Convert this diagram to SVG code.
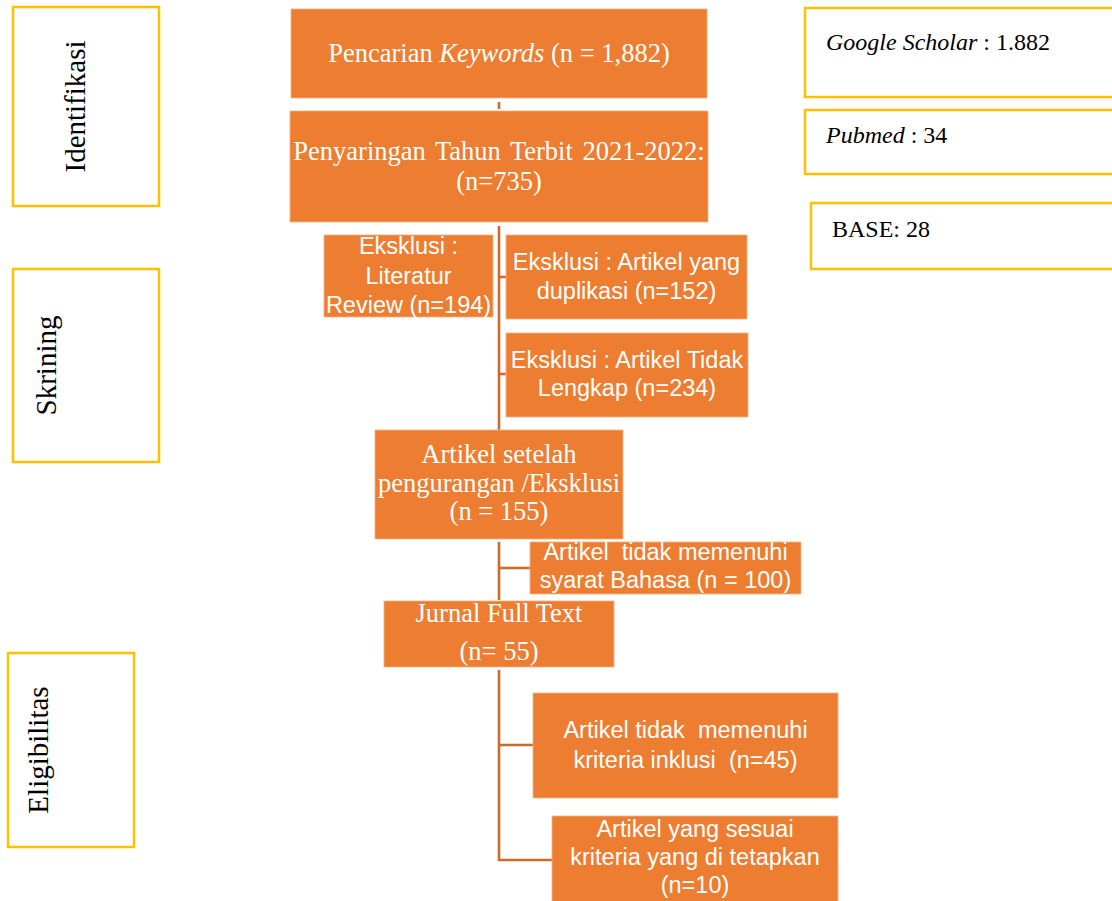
<svg xmlns="http://www.w3.org/2000/svg" width="1112" height="901" viewBox="0 0 1112 901">
<style>
.bg{fill:#ffffff}
.box{fill:#ED7D31;stroke:#F4B183;stroke-width:0.8}
.phase{fill:#ffffff;stroke:#FFC000;stroke-width:2.5}
.src{fill:#ffffff;stroke:#FFC000;stroke-width:2.5}
.serif{font-family:"Liberation Serif","Times New Roman",serif;fill:#ffffff;font-size:26.5px;text-anchor:middle}
.sans{font-family:"Liberation Sans",Arial,sans-serif;fill:#ffffff;font-size:23.5px;text-anchor:middle}
.dark{font-family:"Liberation Serif","Times New Roman",serif;fill:#000000;font-size:24px}
.side{font-family:"Liberation Serif","Times New Roman",serif;fill:#000000;font-size:29px;text-anchor:middle}
.it{font-style:italic}
.conn{stroke:#CF6A2A;stroke-width:2.6;fill:none}
</style>
<rect class="bg" x="0" y="0" width="1112" height="901"/>

<g id="phase-identifikasi">
<rect class="phase" x="13" y="7" width="146" height="199"/>
<text class="side" transform="translate(85,106.5) rotate(-90)">Identifikasi</text>
</g>
<g id="phase-skrining">
<rect class="phase" x="13" y="269" width="146" height="193"/>
<text class="side" transform="translate(56,365.5) rotate(-90)">Skrining</text>
</g>
<g id="phase-eligibilitas">
<rect class="phase" x="8" y="653" width="126" height="194"/>
<text class="side" transform="translate(48,750) rotate(-90)">Eligibilitas</text>
</g>

<g id="src-google">
<rect class="src" x="805" y="8" width="320" height="89"/>
<text class="dark" x="826" y="50"><tspan class="it">Google Scholar</tspan> : 1.882</text>
</g>
<g id="src-pubmed">
<rect class="src" x="805" y="110" width="320" height="64"/>
<text class="dark" x="826" y="143"><tspan class="it">Pubmed</tspan> : 34</text>
</g>
<g id="src-base">
<rect class="src" x="811" y="203" width="320" height="66"/>
<text class="dark" x="832" y="237">BASE: 28</text>
</g>

<g id="connectors">
<line class="conn" x1="499" y1="102" x2="499" y2="109"/>
<line class="conn" x1="499" y1="226" x2="499" y2="430"/>
<line class="conn" x1="499" y1="277" x2="506" y2="277"/>
<line class="conn" x1="499" y1="374" x2="506" y2="374"/>
<line class="conn" x1="499" y1="542" x2="499" y2="600"/>
<line class="conn" x1="499" y1="568" x2="530" y2="568"/>
<line class="conn" x1="499" y1="670" x2="499" y2="861"/>
<line class="conn" x1="499" y1="745" x2="533" y2="745"/>
<line class="conn" x1="498" y1="860" x2="552" y2="860"/>
</g>

<g id="n-search">
<rect class="box" x="291" y="9" width="416" height="89"/>
<text class="serif" x="499" y="62">Pencarian <tspan class="it">Keywords</tspan> (n = 1,882)</text>
</g>
<g id="n-filter">
<rect class="box" x="290" y="111" width="418" height="111"/>
<text class="serif" x="499" y="160" word-spacing="3">Penyaringan Tahun Terbit 2021-2022:</text>
<text class="serif" x="499" y="190">(n=735)</text>
</g>
<g id="n-ex-litrev">
<rect class="box" x="324" y="235" width="169" height="82"/>
<text class="sans" x="408.5" y="254">Eksklusi :</text>
<text class="sans" x="408.5" y="284">Literatur</text>
<text class="sans" x="408.5" y="313">Review (n=194)</text>
</g>
<g id="n-ex-dup">
<rect class="box" x="506" y="235" width="241" height="84"/>
<text class="sans" x="626.5" y="270">Eksklusi : Artikel yang</text>
<text class="sans" x="626.5" y="299">duplikasi (n=152)</text>
</g>
<g id="n-ex-incomplete">
<rect class="box" x="506" y="333" width="242" height="84"/>
<text class="sans" x="627" y="368">Eksklusi : Artikel Tidak</text>
<text class="sans" x="627" y="396">Lengkap (n=234)</text>
</g>
<g id="n-after">
<rect class="box" x="375" y="430" width="248" height="109"/>
<text class="serif" x="499" y="463">Artikel setelah</text>
<text class="serif" x="499" y="492">pengurangan /Eksklusi</text>
<text class="serif" x="499" y="520">(n = 155)</text>
</g>
<g id="n-ex-lang">
<rect class="box" x="530" y="542" width="271" height="52"/>
<text class="sans" x="665.5" y="560" xml:space="preserve">Artikel  tidak memenuhi</text>
<text class="sans" x="665.5" y="588">syarat Bahasa (n = 100)</text>
</g>
<g id="n-fulltext">
<rect class="box" x="384" y="601" width="230" height="66"/>
<text class="serif" x="499" y="622">Jurnal Full Text</text>
<text class="serif" x="499" y="660">(n= 55)</text>
</g>
<g id="n-ex-criteria">
<rect class="box" x="533" y="693" width="305" height="105"/>
<text class="sans" x="685.5" y="738" xml:space="preserve">Artikel tidak  memenuhi</text>
<text class="sans" x="685.5" y="768" xml:space="preserve">kriteria inklusi  (n=45)</text>
</g>
<g id="n-final">
<rect class="box" x="552" y="816" width="286" height="90"/>
<text class="sans" x="695" y="837">Artikel yang sesuai</text>
<text class="sans" x="695" y="865">kriteria yang di tetapkan</text>
<text class="sans" x="695" y="893">(n=10)</text>
</g>
</svg>
